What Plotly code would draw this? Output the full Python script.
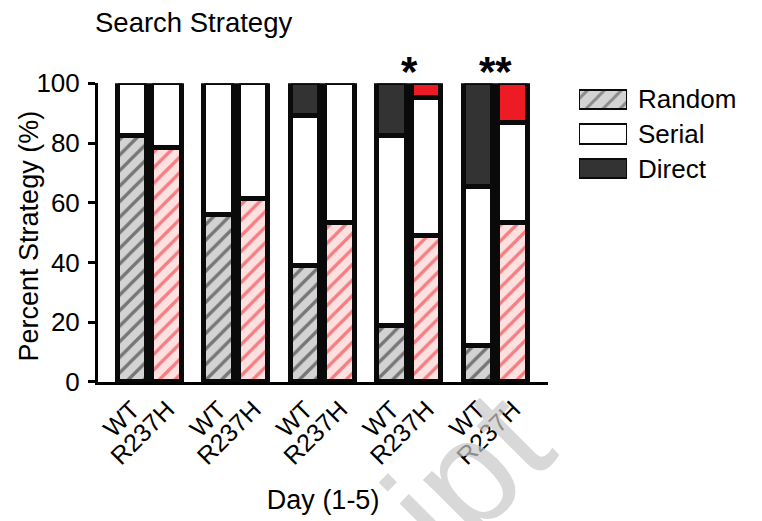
import plotly.graph_objects as go

# Search strategy proportions (%) per training day
days = [1, 2, 3, 4, 5]
genotypes = ["WT", "R237H"]
strategies = ["Random", "Serial", "Direct"]

wt_random = [82.4, 55.8, 38.9, 18.6, 12.1]
wt_serial = [17.6, 44.2, 50.1, 63.6, 53.2]
wt_direct = [0.0, 0.0, 11.0, 17.8, 34.7]

mut_random = [78.3, 61.0, 53.1, 48.9, 53.1]
mut_serial = [21.7, 39.0, 46.9, 46.2, 33.5]
mut_direct = [0.0, 0.0, 0.0, 4.9, 13.4]

significance = {4: "*", 5: "**"}

FONT = "Arial, 'Liberation Sans', sans-serif"
EDGE = "#0a0a0a"
OFFSET = 0.2
BAR_W = 0.34

wt_x = [d - OFFSET for d in days]
mut_x = [d + OFFSET for d in days]

styles = {
    ("WT", "Random"): dict(color="#d3d3d3", pattern=dict(shape="/", fgcolor="#1a1a1a", bgcolor="#d3d3d3", size=11, solidity=0.3)),
    ("WT", "Serial"): dict(color="white"),
    ("WT", "Direct"): dict(color="#333333"),
    ("R237H", "Random"): dict(color="#fde1e1", pattern=dict(shape="/", fgcolor="#ed1c24", bgcolor="#fde1e1", size=11, solidity=0.3)),
    ("R237H", "Serial"): dict(color="white"),
    ("R237H", "Direct"): dict(color="#ed1c24"),
}

fig = go.Figure()

series = [
    ("WT", wt_x, [wt_random, wt_serial, wt_direct]),
    ("R237H", mut_x, [mut_random, mut_serial, mut_direct]),
]
for geno, xs, vals in series:
    for strat, v in zip(strategies, vals):
        st = styles[(geno, strat)]
        marker = dict(color=st["color"], line=dict(color=EDGE, width=5))
        if "pattern" in st:
            marker["pattern"] = st["pattern"]
        fig.add_trace(go.Bar(
            x=xs, y=v, width=BAR_W, marker=marker, name=f"{geno} {strat}",
            showlegend=False, xaxis="x", yaxis="y",
        ))

# Legend drawn as a small horizontal bar panel
fig.add_trace(go.Bar(
    x=[1, 1, 1], y=strategies, orientation="h", width=0.56,
    marker=dict(
        color=["#d3d3d3", "white", "#333333"],
        line=dict(color=EDGE, width=2),
        pattern=dict(shape=["/", "", ""], fgcolor="#1a1a1a", bgcolor=["#d3d3d3", "white", "#333333"],
                     size=12, solidity=0.25),
    ),
    showlegend=False, xaxis="x2", yaxis="y2", hoverinfo="skip",
))

tickvals = []
ticktext = []
for a, b in zip(wt_x, mut_x):
    tickvals += [a, b]
    ticktext += genotypes

annotations = [
    # faint background watermark
    dict(x=0.565, y=-0.27, xref="paper", yref="paper", text="ipt", showarrow=False,
         xanchor="center", yanchor="middle",
         textangle=-45, font=dict(family=FONT, size=150, color="rgba(200,200,200,0.7)")),
    # y-axis title
    dict(x=-0.1063, y=0.427, xref="paper", yref="paper", text="Percent Strategy (%)",
         showarrow=False, textangle=-90, xanchor="center", yanchor="middle",
         font=dict(family=FONT, size=27, color="black")),
]
for d, s in significance.items():
    annotations.append(dict(
        x=d, y=0.908, xref="x", yref="paper", text=f"<b>{s}</b>", showarrow=False,
        font=dict(family=FONT, size=42, color="black"), yanchor="middle",
    ))

fig.update_layout(
    width=762, height=521, autosize=False,
    margin=dict(l=98, r=10, t=40, b=139),
    paper_bgcolor="white", plot_bgcolor="white",
    barmode="stack", bargap=0,
    font=dict(family=FONT, color="black"),
    title=dict(text="Search Strategy", font=dict(family=FONT, size=27.5, color="black"),
               xref="container", x=95 / 762, xanchor="left",
               yref="container", y=1 - 22 / 521, yanchor="middle"),
    xaxis=dict(
        domain=[0, 0.6885], range=[0.401, 5.607],
        showline=True, linewidth=3, linecolor="black",
        showgrid=False, zeroline=False, ticks="",
        tickmode="array", tickvals=tickvals, ticktext=ticktext,
        tickangle=-45, tickfont=dict(family=FONT, size=25),
        title=dict(text="Day (1-5)", font=dict(family=FONT, size=27), standoff=22),
    ),
    yaxis=dict(
        domain=[0, 0.8734], range=[0, 100],
        showline=True, linewidth=3, linecolor="black",
        showgrid=False, zeroline=False,
        ticks="outside", ticklen=7, tickwidth=3, tickcolor="black",
        tickvals=[0, 20, 40, 60, 80, 100], tickfont=dict(family=FONT, size=26),
        ticklabelstandoff=3,
    ),
    xaxis2=dict(domain=[0.7355, 0.8089], range=[0, 1], visible=False, anchor="y2"),
    yaxis2=dict(
        domain=[0.5738, 0.8776], range=[2.5, -0.5], type="category",
        anchor="x2", side="right", showline=False, showgrid=False, zeroline=False,
        ticks="", tickfont=dict(family=FONT, size=26), ticklabelstandoff=10,
    ),
    annotations=annotations,
)

fig.write_html("out.html")
